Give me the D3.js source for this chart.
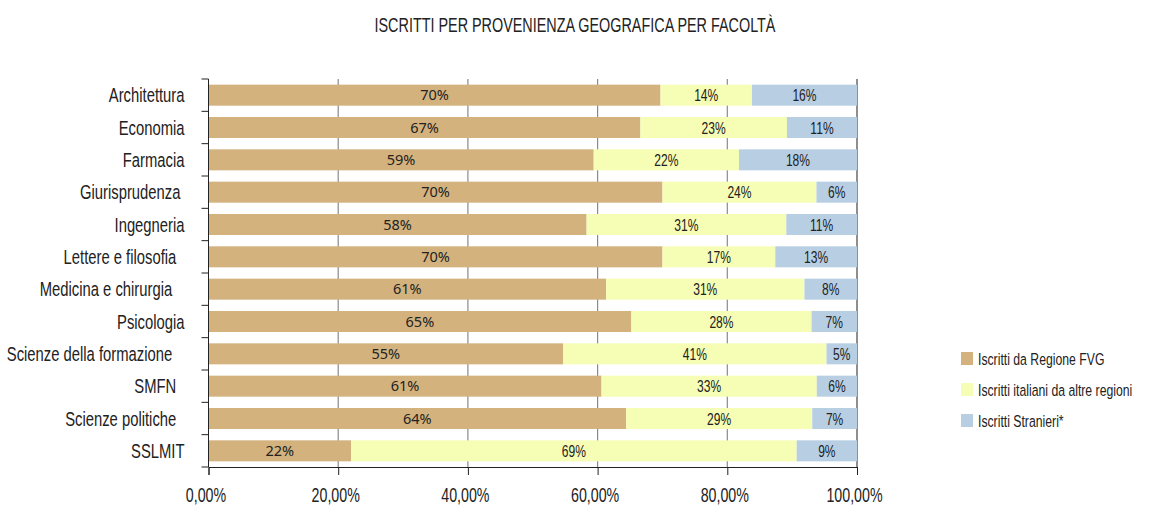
<!DOCTYPE html>
<html>
<head>
<meta charset="utf-8">
<script src="https://cdn.jsdelivr.net/npm/d3@7"></script>
<style>
  body { margin: 0; background: #fff; }
  text { font-family: "Liberation Sans", Arial, sans-serif; fill: #222; }
  .cat { white-space: pre; }
</style>
</head>
<body>
<div class="chart"></div>
<script>
// facoltà (dall'alto in basso)
var categories = ["Architettura", "Economia", "Farmacia", "Giurisprudenza ", "Ingegneria",
  "Lettere e filosofia  ", "Medicina e chirurgia   ", "Psicologia", "Scienze della formazione   ",
  "SMFN  ", "Scienze politiche  ", "SSLMIT"];

// quote in %
var regioneFVG =   [69.7, 66.6, 59.4, 70.0, 58.3, 70.0, 61.3, 65.2, 54.7, 60.6, 64.4, 22.0];
var altreRegioni = [14.1, 22.6, 22.4, 23.75, 30.8, 17.4, 30.6, 27.8, 40.6, 33.2, 28.7, 68.7];
var stranieri =    [16.2, 10.8, 18.2, 6.25, 10.9, 12.6, 8.1, 7.0, 4.7, 6.2, 6.9, 9.3];

var seriesNames = ["Iscritti da Regione FVG", "Iscritti italiani da altre regioni", "Iscritti Stranieri*"];
var colors = ["#d3b27e", "#f6fdb5", "#b8cfe3"];
var xTicks = [0, 20, 40, 60, 80, 100];

var svgWidth = 1149, svgHeight = 508;
var margin = { top: 79, right: 292, bottom: 41, left: 208.5 };
var width = svgWidth - margin.left - margin.right;
var height = svgHeight - margin.top - margin.bottom;

// no condensed font installed: squeeze text horizontally
function squeeze(sel, f) {
  sel.each(function() {
    var t = d3.select(this);
    var tx = +t.attr("x") || 0, ty = +t.attr("y") || 0;
    t.attr("x", 0).attr("y", 0)
      .attr("transform", `translate(${tx}, ${ty}) scale(${f}, 1)`);
  });
}

var svg = d3.select(".chart").append("svg")
  .attr("width", svgWidth)
  .attr("height", svgHeight);

// titolo
svg.append("text")
  .attr("x", 575)
  .attr("y", 32)
  .attr("text-anchor", "middle")
  .style("font-size", "20px")
  .text("ISCRITTI PER PROVENIENZA GEOGRAFICA PER FACOLTÀ")
  .call(squeeze, 0.72);

var chartGroup = svg.append("g")
  .attr("transform", `translate(${margin.left}, ${margin.top})`);

var x = d3.scaleLinear().domain([0, 100]).range([0, width]);
var y = d3.scaleBand().domain(categories).range([0, height])
  .paddingInner(0.35).paddingOuter(0.175);

// griglia verticale
chartGroup.selectAll(".grid")
  .data(xTicks.slice(1))
  .enter().append("line")
  .attr("x1", d => x(d)).attr("x2", d => x(d))
  .attr("y1", 0).attr("y2", height)
  .attr("stroke", d => d === 100 ? "#444" : "#8a8a8a")
  .attr("stroke-width", 1.2);

// dati impilati
var table = categories.map((c, i) => ({ cat: c, s0: regioneFVG[i], s1: altreRegioni[i], s2: stranieri[i] }));
var stack = d3.stack().keys(["s0", "s1", "s2"])(table);

var layers = chartGroup.selectAll(".layer")
  .data(stack)
  .enter().append("g")
  .attr("fill", (d, i) => colors[i]);

layers.selectAll("rect")
  .data(d => d)
  .enter().append("rect")
  .attr("x", d => x(d[0]))
  .attr("y", d => y(d.data.cat))
  .attr("width", d => x(d[1]) - x(d[0]))
  .attr("height", y.bandwidth());

// etichette valori
stack.forEach(function(layer, i) {
  var lbl = chartGroup.selectAll(".lbl" + i)
    .data(layer)
    .enter().append("text")
    .attr("x", d => (x(d[0]) + x(d[1])) / 2)
    .attr("y", d => y(d.data.cat) + y.bandwidth() / 2)
    .attr("dy", "0.36em")
    .attr("text-anchor", "middle")
    .style("font-family", i === 0 ? "'Noto Sans', sans-serif" : null)
    .style("font-size", i === 0 ? "14.5px" : "17px")
    .text(d => Math.round(d[1] - d[0]) + "%");
  if (i > 0) lbl.call(squeeze, 0.71);
});

// asse y
chartGroup.append("line")
  .attr("x1", 0).attr("x2", 0).attr("y1", 0).attr("y2", height)
  .attr("stroke", "#222");
var bounds = categories.map(c => y(c) - y.step() * y.paddingInner() / 2);
bounds.push(height);
chartGroup.selectAll(".ytick")
  .data(bounds)
  .enter().append("line")
  .attr("x1", -7).attr("x2", 0)
  .attr("y1", d => d).attr("y2", d => d)
  .attr("stroke", "#222");

chartGroup.selectAll(".cat")
  .data(categories)
  .enter().append("text")
  .attr("class", "cat")
  .attr("x", -24)
  .attr("y", d => y(d) + y.bandwidth() / 2)
  .attr("dy", "0.36em")
  .attr("text-anchor", "end")
  .style("font-size", "19.5px")
  .text(d => d)
  .call(squeeze, 0.76);

// asse x
var bottomAxis = d3.axisBottom(x)
  .tickValues(xTicks)
  .tickSize(8)
  .tickFormat(d => d.toFixed(2).replace(".", ",") + "%");
var xAxis = chartGroup.append("g")
  .attr("transform", `translate(0, ${height})`)
  .call(bottomAxis);
xAxis.select(".domain").attr("stroke", "#222");
xAxis.selectAll(".tick line").attr("stroke", "#222");
xAxis.selectAll(".tick text")
  .attr("x", -3)
  .attr("y", 21)
  .style("font-family", "'Liberation Sans', Arial, sans-serif")
  .style("font-size", "19.5px")
  .attr("fill", "#222")
  .call(squeeze, 0.73);

// legenda
var legend = svg.append("g").attr("transform", "translate(961, 352)");
seriesNames.forEach(function(name, i) {
  var g = legend.append("g").attr("transform", `translate(0, ${i * 31})`);
  g.append("rect").attr("width", 12).attr("height", 13).attr("fill", colors[i]);
  g.append("text")
    .attr("x", 17).attr("y", 7).attr("dy", "0.36em")
    .style("font-size", "17px")
    .text(name)
    .call(squeeze, 0.72);
});
</script>
</body>
</html>
